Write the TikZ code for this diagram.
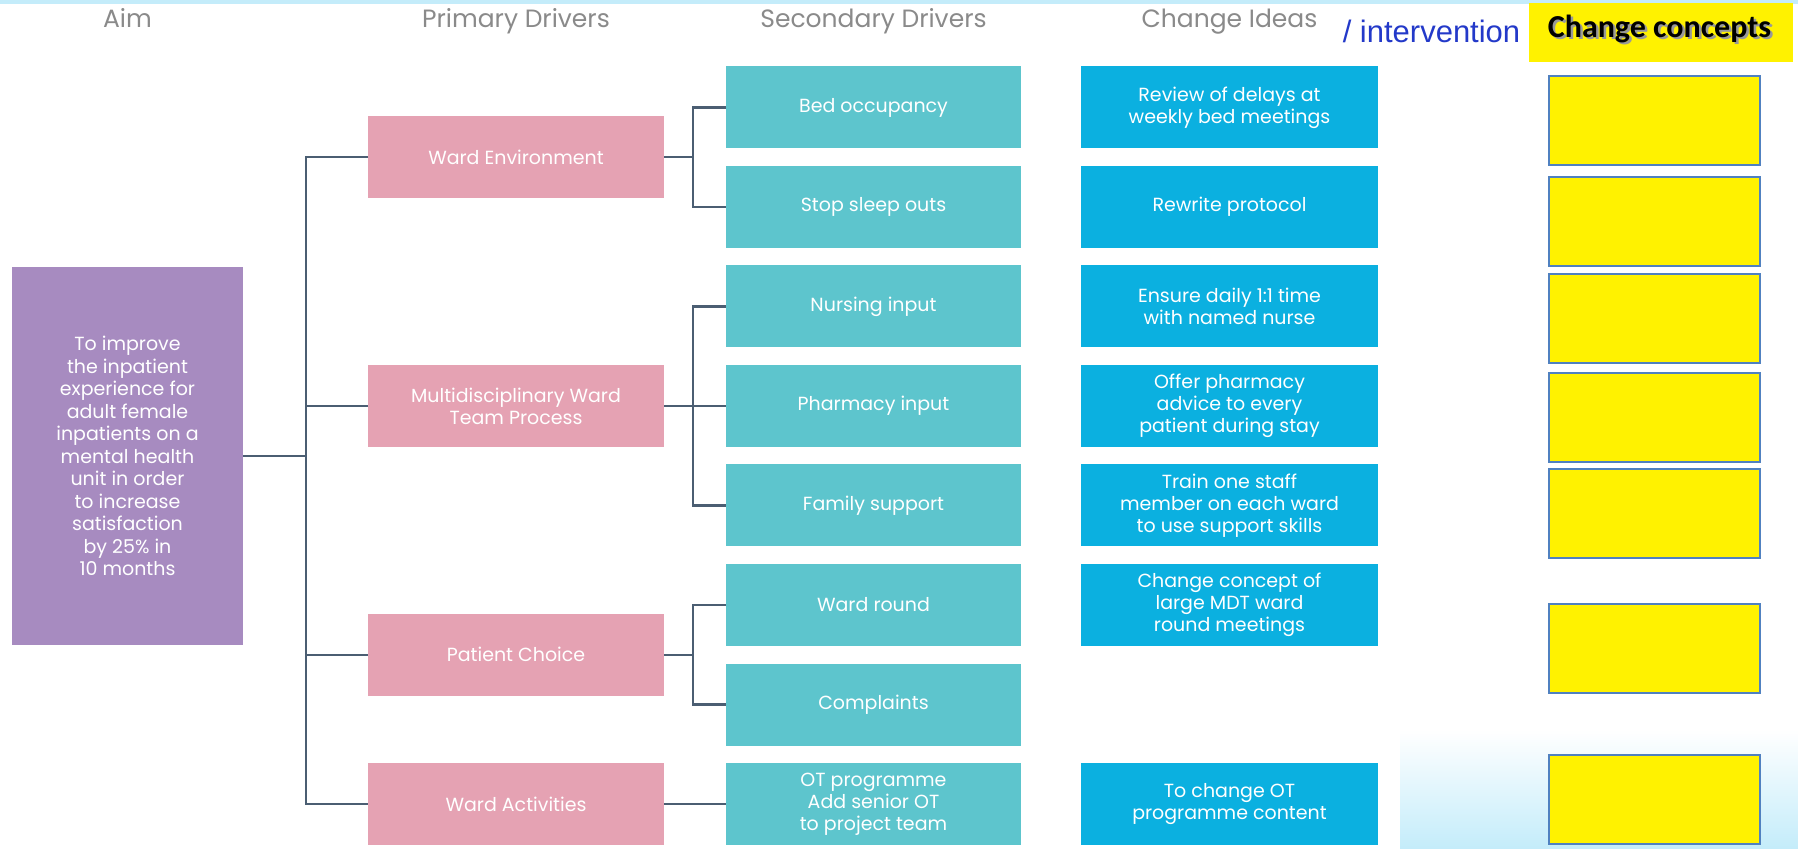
\documentclass[tikz,border=0pt]{standalone}
\usepackage{fontspec}
\newfontfamily\driverFont{Poppins}
\newfontfamily\arialFont{Liberation Sans}
\newfontfamily\calibriFont{Carlito}
\usetikzlibrary{calc}

\begin{document}
\begin{tikzpicture}[x=0.5pt, y=-0.5pt,
    every node/.style={inner sep=0pt, outer sep=0pt},
    box/.style={rectangle, align=center, text=white, minimum height=41pt,
        font=\driverFont\fontsize{9.5}{11}\selectfont},
    aimBox/.style={box, fill=aimColour, minimum width=115.5pt, minimum height=189pt,
        font=\driverFont\fontsize{9.5}{11.25}\selectfont},
    primaryBox/.style={box, fill=primaryColour, minimum width=148pt},
    secondaryBox/.style={box, fill=secondaryColour, minimum width=147.5pt},
    ideaBox/.style={box, fill=ideaColour, minimum width=148.5pt},
    conceptBox/.style={rectangle, fill=yellow, draw=conceptBorder, line width=1pt,
        minimum width=105.5pt, minimum height=44.5pt},
    header/.style={anchor=base, text=headerColour, font=\driverFont\fontsize{12.5}{15}\selectfont},
    link/.style={draw=linkColour, line width=1.1pt}
]
    % Define colours and column positions
    \definecolor{aimColour}{HTML}{A78BC0}
    \definecolor{primaryColour}{HTML}{E5A2B3}
    \definecolor{secondaryColour}{HTML}{5DC5CD}
    \definecolor{ideaColour}{HTML}{0BB0E0}
    \definecolor{linkColour}{HTML}{4B5E72}
    \definecolor{headerColour}{HTML}{8A8A8A}
    \definecolor{conceptBorder}{HTML}{5081C0}
    \definecolor{bandColour}{HTML}{C4ECFA}
    \definecolor{interventionColour}{HTML}{2339C9}

    \def\aimX{127.5}
    \def\primaryX{516}
    \def\secondaryX{873.5}
    \def\ideaX{1229.5}
    \def\conceptX{1654.5}

    % Page and background bands
    \useasboundingbox (0,0) rectangle (1798,849);
    \fill[white] (0,0) rectangle (1798,849);
    \fill[bandColour] (0,0) rectangle (1798,4);
    \shade[top color=white, bottom color=bandColour] (1400,730) rectangle (1798,849);

    % Column headers
    \node[header] (aimHead) at (\aimX,28) {Aim};
    \node[header] (primaryHead) at (\primaryX,28) {Primary Drivers};
    \node[header] (secondaryHead) at (\secondaryX,28) {Secondary Drivers};
    \node[header] (ideaHead) at (\ideaX,28) {Change Ideas};
    \node[anchor=base, text=interventionColour, font=\arialFont\fontsize{15.5}{18}\selectfont]
        (interventionHead) at (1431.5,43) {/ intervention};
    \node[fill=yellow, minimum width=132pt, minimum height=29.5pt] (conceptHead) at (1661,32.5) {};
    \node[anchor=base, text=black!40, font=\calibriFont\bfseries\fontsize{16}{19}\selectfont]
        at (1662,40) {Change concepts};
    \node[anchor=base, font=\calibriFont\bfseries\fontsize{16}{19}\selectfont]
        (conceptText) at (1659.5,38) {Change concepts};

    % Aim
    \node[aimBox] (aim) at (\aimX,456) {To improve\\the inpatient\\experience for\\adult female\\inpatients on a\\mental health\\unit in order\\to increase\\satisfaction\\by 25\% in\\10 months};

    % Primary drivers
    \node[primaryBox] (wardEnv) at (\primaryX,157.25) {Ward Environment};
    \node[primaryBox] (multi) at (\primaryX,406) {Multidisciplinary Ward\\Team Process};
    \node[primaryBox] (patient) at (\primaryX,654.75) {Patient Choice};
    \node[primaryBox] (wardAct) at (\primaryX,804) {Ward Activities};

    % Secondary drivers
    \node[secondaryBox] (bed) at (\secondaryX,107.5) {Bed occupancy};
    \node[secondaryBox] (sleep) at (\secondaryX,207) {Stop sleep outs};
    \node[secondaryBox] (nursing) at (\secondaryX,306.5) {Nursing input};
    \node[secondaryBox] (pharmacy) at (\secondaryX,406) {Pharmacy input};
    \node[secondaryBox] (family) at (\secondaryX,505.5) {Family support};
    \node[secondaryBox] (wardRound) at (\secondaryX,605) {Ward round};
    \node[secondaryBox] (complaints) at (\secondaryX,704.5) {Complaints};
    \node[secondaryBox] (otProg) at (\secondaryX,804) {OT programme\\Add senior OT\\to project team};

    % Change ideas
    \node[ideaBox] (review) at (\ideaX,107.5) {Review of delays at\\weekly bed meetings};
    \node[ideaBox] (rewrite) at (\ideaX,207) {Rewrite protocol};
    \node[ideaBox] (ensure) at (\ideaX,306.5) {Ensure daily 1:1 time\\with named nurse};
    \node[ideaBox] (offer) at (\ideaX,406) {Offer pharmacy\\advice to every\\patient during stay};
    \node[ideaBox] (train) at (\ideaX,505.5) {Train one staff\\member on each ward\\to use support skills};
    \node[ideaBox] (mdt) at (\ideaX,605) {Change concept of\\large MDT ward\\round meetings};
    \node[ideaBox] (otChange) at (\ideaX,804) {To change OT\\programme content};

    % Empty change concept boxes
    \foreach \y [count=\i] in {121,221.5,318.5,417.5,513.5,648.5,799.5}
        \node[conceptBox] (concept\i) at (\conceptX,\y) {};

    % Aim to primary drivers
    \draw[link] (aim.east) -- ++(63,0);
    \draw[link] (wardEnv.west) -- ++(-62,0) |- (wardAct.west);
    \foreach \p in {multi, patient}
        \draw[link] (\p.west) -- ++(-62,0);

    % Primary to secondary drivers
    \foreach \p in {wardEnv, patient}
        \draw[link] (\p.east) -- ++(29,0);
    \foreach \a/\b in {bed/sleep, nursing/family, wardRound/complaints}
        \draw[link] (\a.west) -- ++(-33,0) |- (\b.west);
    \draw[link] (multi.east) -- (pharmacy.west);
    \draw[link] (wardAct.east) -- (otProg.west);

\end{tikzpicture}
\end{document}
